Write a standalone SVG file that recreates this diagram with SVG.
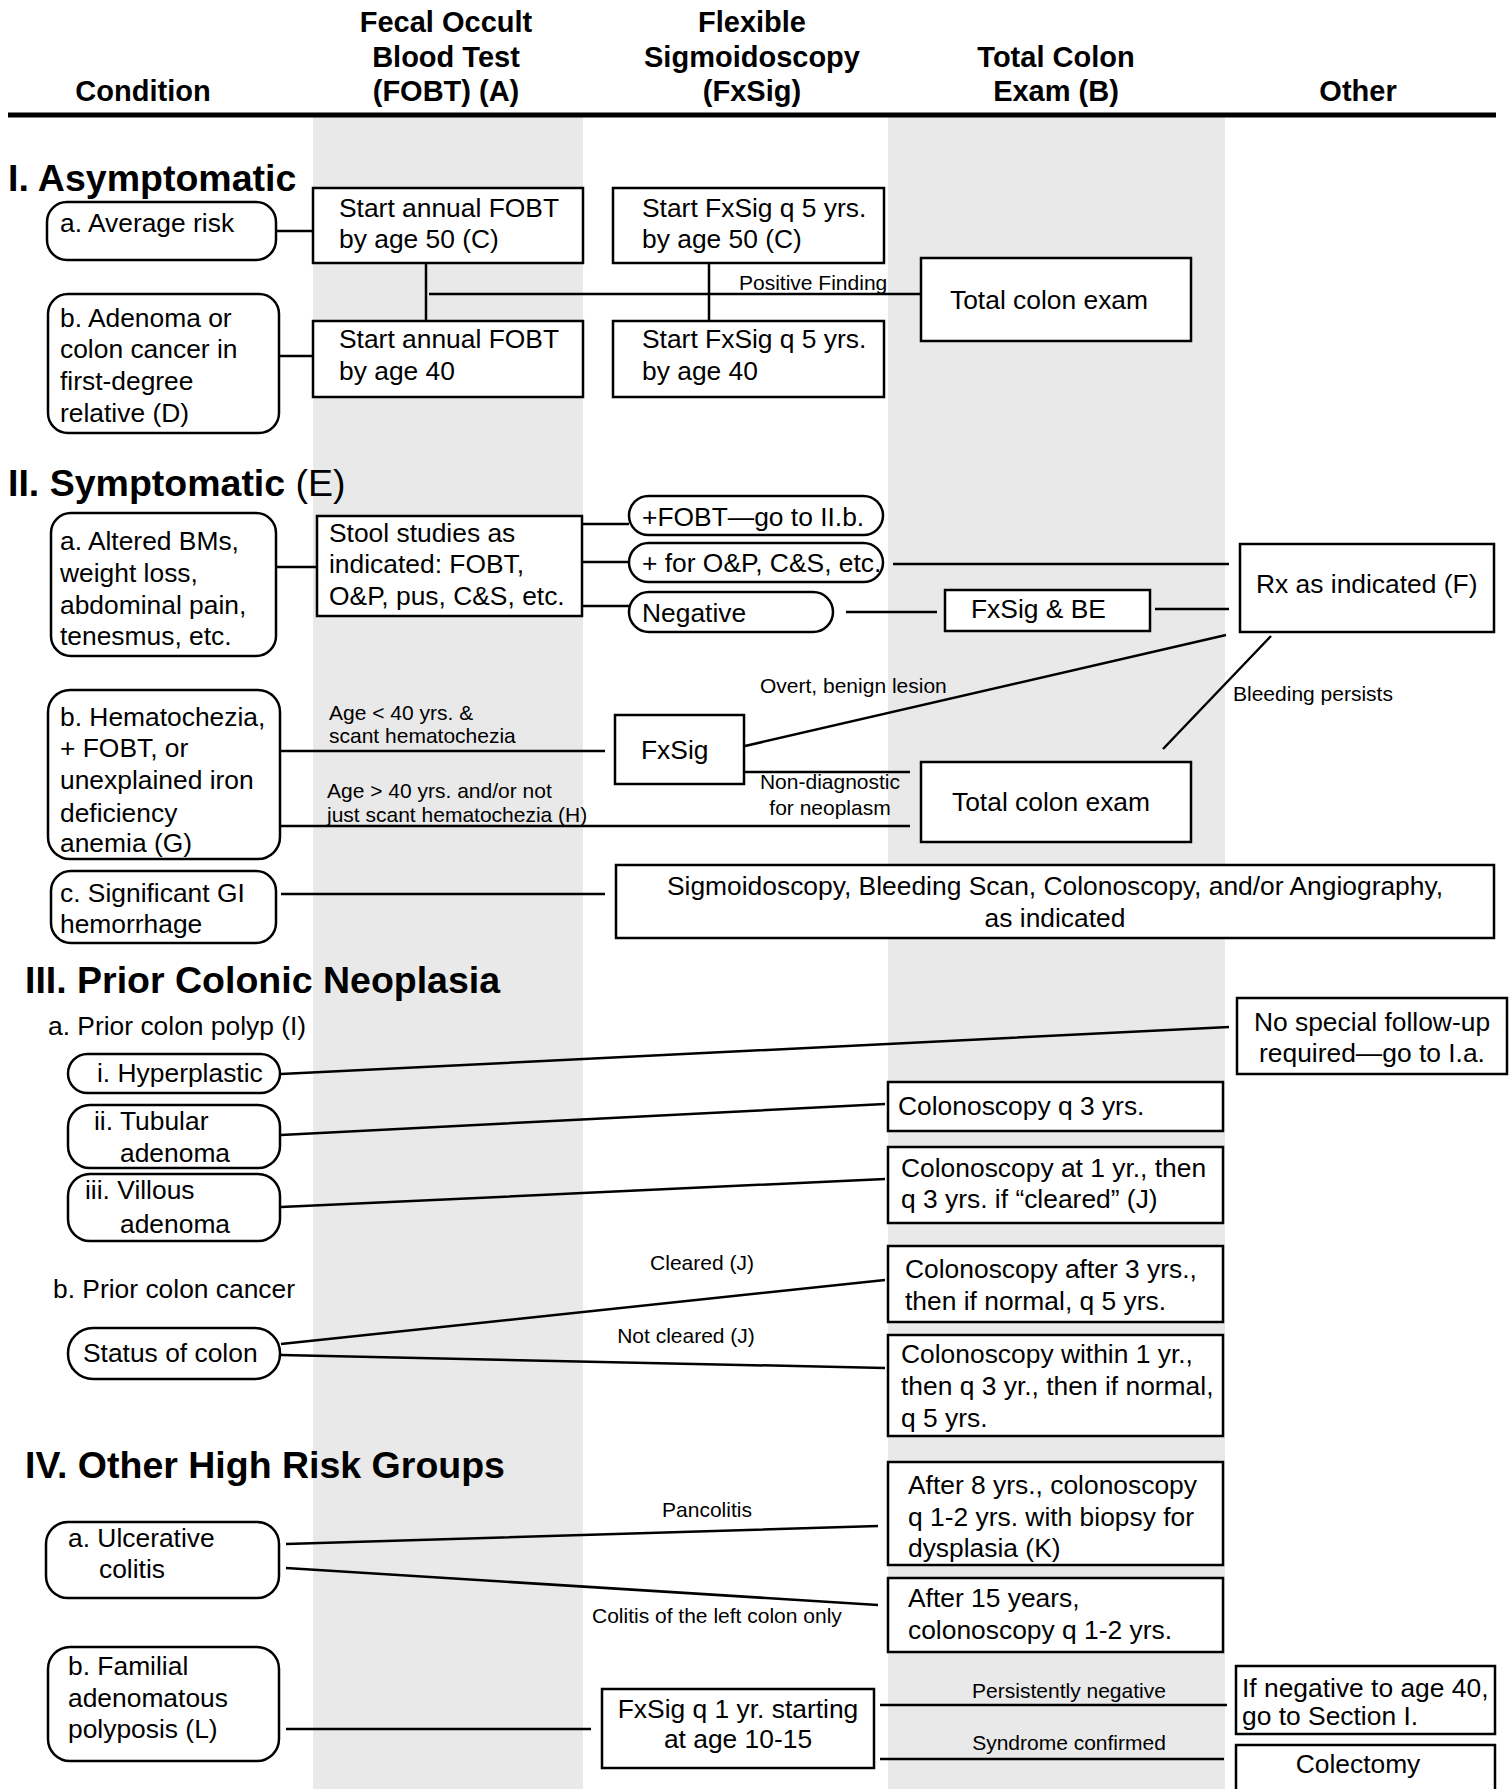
<svg xmlns="http://www.w3.org/2000/svg" width="1511" height="1789" viewBox="0 0 1511 1789">
<style>
text{font-family:"Liberation Sans",Arial,sans-serif;fill:#000}
.t{font-size:26.4px}
.h{font-size:29px;font-weight:bold}
.sec{font-size:37.5px;font-weight:bold}
.lbl{font-size:21px}
.m{text-anchor:middle}
.box{fill:#fff;stroke:#000;stroke-width:2.5}
.c{stroke:#000;stroke-width:2.5;fill:none}
.band{fill:#e9e9e9}
</style>
<rect width="1511" height="1789" fill="#fff"/>
<rect class="band" x="313" y="113" width="270" height="1676"/>
<rect class="band" x="888" y="113" width="337" height="1676"/>

<g id="header">
<text class="h m" x="143" y="101">Condition</text>
<text class="h m" x="446" y="32">Fecal Occult</text>
<text class="h m" x="446" y="67">Blood Test</text>
<text class="h m" x="446" y="101">(FOBT) (A)</text>
<text class="h m" x="752" y="32">Flexible</text>
<text class="h m" x="752" y="67">Sigmoidoscopy</text>
<text class="h m" x="752" y="101">(FxSig)</text>
<text class="h m" x="1056" y="67">Total Colon</text>
<text class="h m" x="1056" y="101">Exam (B)</text>
<text class="h m" x="1358" y="101">Other</text>
<line x1="8" y1="115" x2="1496" y2="115" stroke="#000" stroke-width="5"/>
</g>

<g id="titles">
<text class="sec" x="8" y="191">I. Asymptomatic</text>
<text class="sec" x="8" y="496">II. Symptomatic<tspan font-weight="normal"> (E)</tspan></text>
<text class="sec" x="25" y="993">III. Prior Colonic Neoplasia</text>
<text class="t" x="48" y="1035">a. Prior colon polyp (I)</text>
<text class="t" x="53" y="1298">b. Prior colon cancer</text>
<text class="sec" x="25" y="1478">IV. Other High Risk Groups</text>
</g>

<g id="connectors">
<path class="c" d="M276 231H313M279 356H313M426 263V321M709 263V321M429 294H921"/>
<path class="c" d="M276 567H317M582 524H629M582 562H629M582 606H629M893 564H1229M846 612H937M1155 609H1229"/>
<path class="c" d="M745 746L1226 635M1271 636L1163 749M280 751H605M280 826H910M744 772H910M281 894H605"/>
<path class="c" d="M281 1074L1229 1027M281 1135L885 1104M281 1207L885 1179M281 1344L885 1280M281 1355L885 1368"/>
<path class="c" d="M286 1544L878 1526M286 1568L878 1605M286 1729H591M880 1705H1227M880 1759H1224"/>
<text class="lbl" x="739" y="290">Positive Finding</text>
<text class="lbl" x="760" y="693">Overt, benign lesion</text>
<text class="lbl" x="1233" y="701">Bleeding persists</text>
<text class="lbl" x="329" y="720">Age &lt; 40 yrs. &amp;</text>
<text class="lbl" x="329" y="743">scant hematochezia</text>
<text class="lbl" x="327" y="798">Age &gt; 40 yrs. and/or not</text>
<text class="lbl" x="327" y="822">just scant hematochezia (H)</text>
<text class="lbl m" x="830" y="789">Non-diagnostic</text>
<text class="lbl m" x="830" y="815">for neoplasm</text>
<text class="lbl m" x="702" y="1270">Cleared (J)</text>
<text class="lbl m" x="686" y="1343">Not cleared (J)</text>
<text class="lbl m" x="707" y="1517">Pancolitis</text>
<text class="lbl" x="592" y="1623">Colitis of the left colon only</text>
<text class="lbl m" x="1069" y="1698">Persistently negative</text>
<text class="lbl m" x="1069" y="1750">Syndrome confirmed</text>
</g>

<g id="n-avg"><rect class="box" x="47" y="202" width="229" height="58" rx="20"/><text class="t" x="60" y="232">a. Average risk</text></g>
<g id="n-fobt50"><rect class="box" x="313" y="188" width="270" height="75"/><text class="t" x="339" y="217">Start annual FOBT</text><text class="t" x="339" y="248">by age 50 (C)</text></g>
<g id="n-fxsig50"><rect class="box" x="613" y="188" width="271" height="75"/><text class="t" x="642" y="217">Start FxSig q 5 yrs.</text><text class="t" x="642" y="248">by age 50 (C)</text></g>
<g id="n-tce1"><rect class="box" x="921" y="258" width="270" height="83"/><text class="t" x="950" y="309">Total colon exam</text></g>
<g id="n-adenoma"><rect class="box" x="48" y="294" width="231" height="139" rx="20"/><text class="t" x="60" y="327">b. Adenoma or</text><text class="t" x="60" y="358">colon cancer in</text><text class="t" x="60" y="390">first-degree</text><text class="t" x="60" y="422">relative (D)</text></g>
<g id="n-fobt40"><rect class="box" x="313" y="321" width="270" height="76"/><text class="t" x="339" y="348">Start annual FOBT</text><text class="t" x="339" y="380">by age 40</text></g>
<g id="n-fxsig40"><rect class="box" x="613" y="321" width="271" height="76"/><text class="t" x="642" y="348">Start FxSig q 5 yrs.</text><text class="t" x="642" y="380">by age 40</text></g>

<g id="n-altered"><rect class="box" x="51" y="513" width="225" height="143" rx="20"/><text class="t" x="60" y="550">a. Altered BMs,</text><text class="t" x="60" y="582">weight loss,</text><text class="t" x="60" y="614">abdominal pain,</text><text class="t" x="60" y="645">tenesmus, etc.</text></g>
<g id="n-stool"><rect class="box" x="317" y="516" width="265" height="100"/><text class="t" x="329" y="542">Stool studies as</text><text class="t" x="329" y="573">indicated: FOBT,</text><text class="t" x="329" y="605">O&amp;P, pus, C&amp;S, etc.</text></g>
<g id="n-posfobt"><rect class="box" x="629" y="496" width="254" height="39" rx="19.5"/><text class="t" x="642" y="526">+FOBT—go to II.b.</text></g>
<g id="n-posop"><rect class="box" x="629" y="543" width="254" height="39" rx="19.5"/><text class="t" x="642" y="572">+ for O&amp;P, C&amp;S, etc.</text></g>
<g id="n-neg"><rect class="box" x="629" y="592" width="204" height="40" rx="20"/><text class="t" x="642" y="622">Negative</text></g>
<g id="n-fxsigbe"><rect class="box" x="945" y="590" width="205" height="41"/><text class="t" x="971" y="618">FxSig &amp; BE</text></g>
<g id="n-rx"><rect class="box" x="1240" y="544" width="254" height="88"/><text class="t" x="1256" y="593">Rx as indicated (F)</text></g>
<g id="n-hema"><rect class="box" x="48" y="690" width="232" height="169" rx="22"/><text class="t" x="60" y="726">b. Hematochezia,</text><text class="t" x="60" y="757">+ FOBT, or</text><text class="t" x="60" y="789">unexplained iron</text><text class="t" x="60" y="822">deficiency</text><text class="t" x="60" y="852">anemia (G)</text></g>
<g id="n-fxsig"><rect class="box" x="615" y="715" width="129" height="69"/><text class="t" x="641" y="759">FxSig</text></g>
<g id="n-tce2"><rect class="box" x="921" y="762" width="270" height="80"/><text class="t" x="952" y="811">Total colon exam</text></g>
<g id="n-gi"><rect class="box" x="51" y="871" width="225" height="72" rx="20"/><text class="t" x="60" y="902">c. Significant GI</text><text class="t" x="60" y="933">hemorrhage</text></g>
<g id="n-sig"><rect class="box" x="616" y="865" width="878" height="73"/><text class="t m" x="1055" y="895">Sigmoidoscopy, Bleeding Scan, Colonoscopy, and/or Angiography,</text><text class="t m" x="1055" y="927">as indicated</text></g>

<g id="n-hyper"><rect class="box" x="68" y="1054" width="212" height="39" rx="19.5"/><text class="t" x="97" y="1082">i. Hyperplastic</text></g>
<g id="n-tub"><rect class="box" x="68" y="1105" width="212" height="63" rx="22"/><text class="t" x="94" y="1130">ii. Tubular</text><text class="t" x="120" y="1162">adenoma</text></g>
<g id="n-vill"><rect class="box" x="68" y="1174" width="212" height="67" rx="22"/><text class="t" x="85" y="1199">iii. Villous</text><text class="t" x="120" y="1233">adenoma</text></g>
<g id="n-status"><rect class="box" x="68" y="1328" width="212" height="51" rx="25"/><text class="t" x="83" y="1362">Status of colon</text></g>
<g id="n-nospecial"><rect class="box" x="1237" y="998" width="270" height="76"/><text class="t m" x="1372" y="1031">No special follow-up</text><text class="t m" x="1372" y="1062">required—go to I.a.</text></g>
<g id="n-col3"><rect class="box" x="888" y="1082" width="335" height="49"/><text class="t" x="898" y="1115">Colonoscopy q 3 yrs.</text></g>
<g id="n-col1"><rect class="box" x="888" y="1147" width="335" height="76"/><text class="t" x="901" y="1177">Colonoscopy at 1 yr., then</text><text class="t" x="901" y="1208">q 3 yrs. if “cleared” (J)</text></g>
<g id="n-colafter3"><rect class="box" x="888" y="1246" width="335" height="76"/><text class="t" x="905" y="1278">Colonoscopy after 3 yrs.,</text><text class="t" x="905" y="1310">then if normal, q 5 yrs.</text></g>
<g id="n-colwithin"><rect class="box" x="888" y="1335" width="335" height="101"/><text class="t" x="901" y="1363">Colonoscopy within 1 yr.,</text><text class="t" x="901" y="1395">then q 3 yr., then if normal,</text><text class="t" x="901" y="1427">q 5 yrs.</text></g>

<g id="n-uc"><rect class="box" x="46" y="1522" width="233" height="76" rx="22"/><text class="t" x="68" y="1547">a. Ulcerative</text><text class="t" x="99" y="1578">colitis</text></g>
<g id="n-after8"><rect class="box" x="888" y="1462" width="335" height="103"/><text class="t" x="908" y="1494">After 8 yrs., colonoscopy</text><text class="t" x="908" y="1526">q 1-2 yrs. with biopsy for</text><text class="t" x="908" y="1557">dysplasia (K)</text></g>
<g id="n-after15"><rect class="box" x="888" y="1578" width="335" height="74"/><text class="t" x="908" y="1607">After 15 years,</text><text class="t" x="908" y="1639">colonoscopy q 1-2 yrs.</text></g>
<g id="n-fap"><rect class="box" x="48" y="1647" width="231" height="114" rx="22"/><text class="t" x="68" y="1675">b. Familial</text><text class="t" x="68" y="1707">adenomatous</text><text class="t" x="68" y="1738">polyposis (L)</text></g>
<g id="n-fxsig1"><rect class="box" x="602" y="1689" width="272" height="79"/><text class="t m" x="738" y="1718">FxSig q 1 yr. starting</text><text class="t m" x="738" y="1748">at age 10-15</text></g>
<g id="n-ifneg"><rect class="box" x="1236" y="1666" width="259" height="68"/><text class="t" x="1242" y="1697">If negative to age 40,</text><text class="t" x="1242" y="1725">go to Section I.</text></g>
<g id="n-colectomy"><rect class="box" x="1236" y="1745" width="259" height="60"/><text class="t m" x="1358" y="1773">Colectomy</text></g>
</svg>
